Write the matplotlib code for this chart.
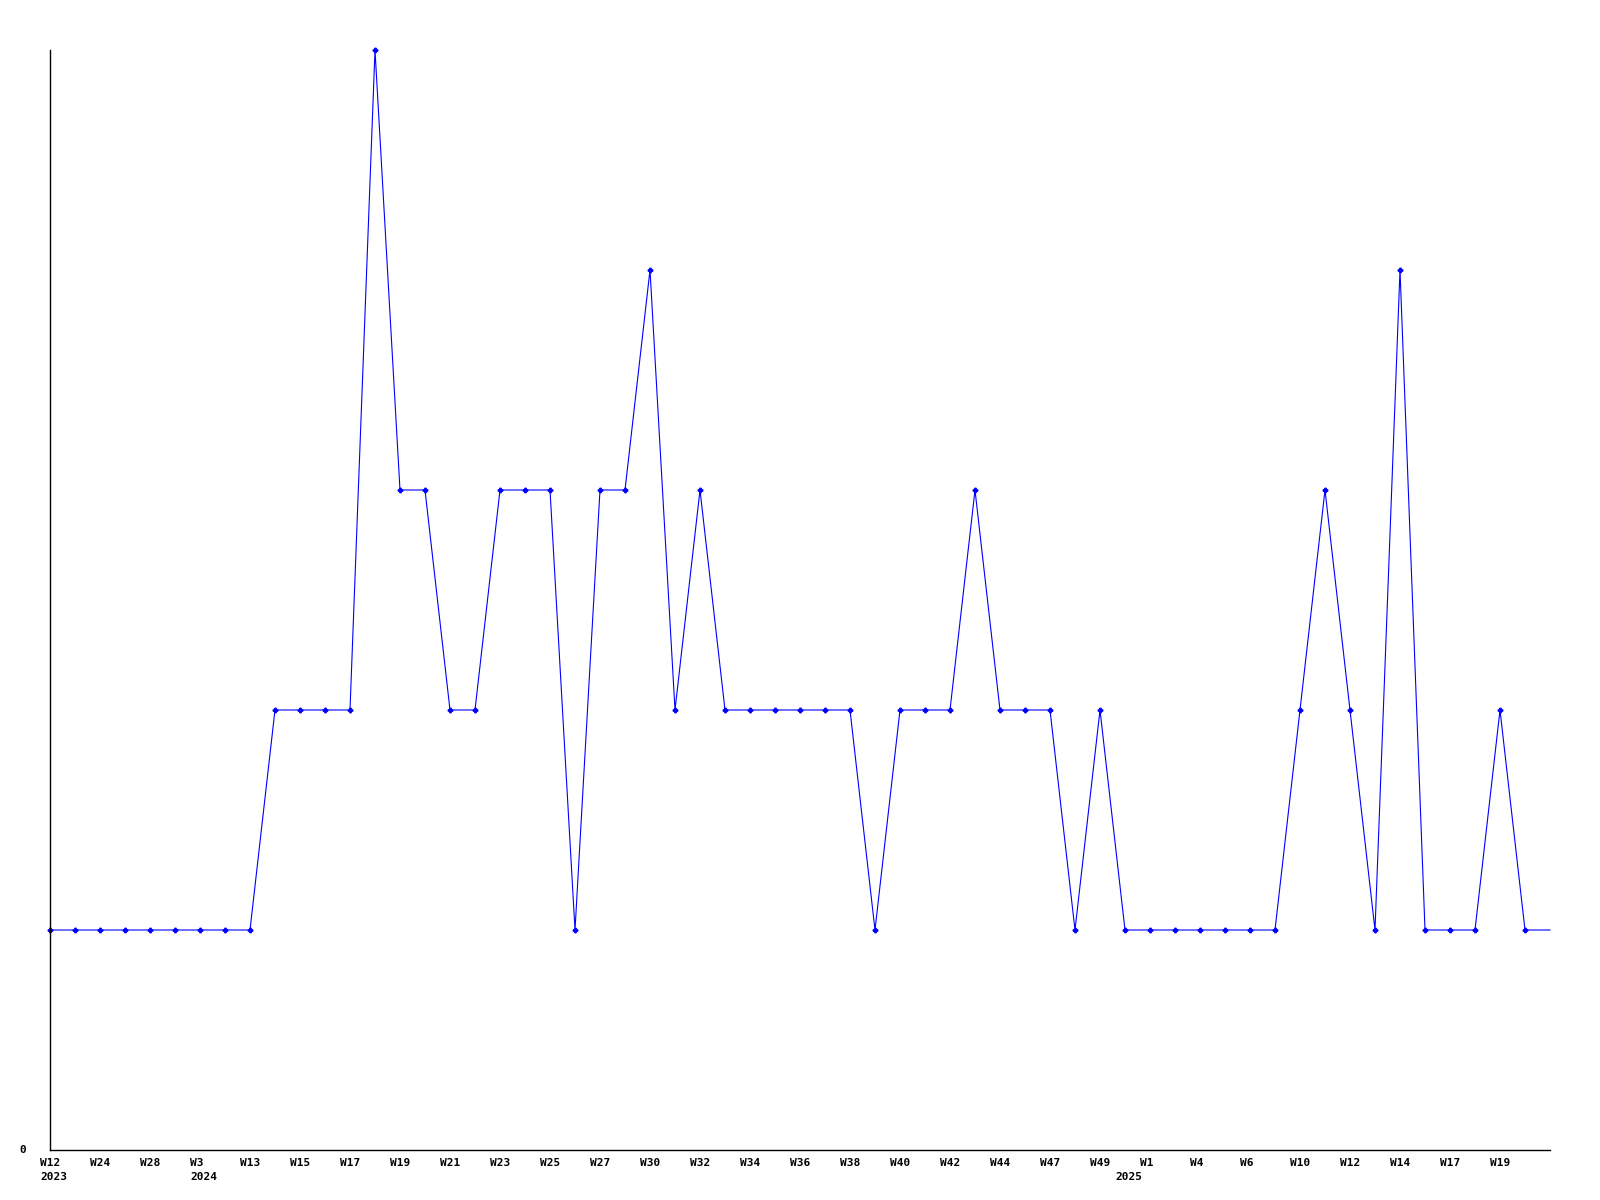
import matplotlib
matplotlib.use("Agg")
import matplotlib.pyplot as plt
import matplotlib.transforms as mtransforms

# weekly counts, one per point (last point has no marker, line runs to axis end)
values = [1, 1, 1, 1, 1, 1, 1, 1, 1,
          2, 2, 2, 2, 5, 3, 3, 2, 2, 3, 3, 3, 1, 3, 3, 4, 2, 3,
          2, 2, 2, 2, 2, 2, 1, 2, 2, 2, 3, 2, 2, 2, 1, 2, 1,
          1, 1, 1, 1, 1, 1, 2, 3, 2, 1, 4, 1, 1, 1, 2, 1, 1]

# week labels sit on every other point
week_labels = ["W12", "W24", "W28", "W3", "W13", "W15", "W17", "W19", "W21", "W23",
               "W25", "W27", "W30", "W32", "W34", "W36", "W38", "W40", "W42", "W44",
               "W47", "W49", "W1", "W4", "W6", "W10", "W12", "W14", "W17", "W19"]
year_pos = [0, 6, 43]
year_text = ["2023", "2024", "2025"]

fig = plt.figure(figsize=(16, 12), dpi=100)
ax = fig.add_axes([50 / 1600, 50 / 1200, 1500 / 1600, 1100 / 1200])

x = list(range(len(values)))
ax.plot(x, values, color="#0000ff", linewidth=0.8, marker="P", markersize=3.2,
        markevery=list(range(len(values) - 1)), clip_on=False)

ax.set_xlim(0, len(values) - 1)
ax.set_ylim(0, 5)
for s in ["top", "right"]:
    ax.spines[s].set_visible(False)
for s in ["left", "bottom"]:
    ax.spines[s].set_linewidth(1.0)
    ax.spines[s].set_color("black")
ax.set_xticks([])
ax.set_yticks([])

font = dict(family="DejaVu Sans Mono", fontweight="bold", fontsize=8)
trans = ax.get_xaxis_transform()
off1 = mtransforms.offset_copy(trans, fig=fig, x=-10, y=-8, units="dots")
off2 = mtransforms.offset_copy(trans, fig=fig, x=-10, y=-22, units="dots")
for i, lab in enumerate(week_labels):
    ax.text(2 * i, 0, lab, transform=off1, ha="left", va="top", **font)
for p, t in zip(year_pos, year_text):
    ax.text(p, 0, t, transform=off2, ha="left", va="top", **font)

ax.text(-24 / 25, 0, "0", transform=ax.transData, ha="right", va="center", **font)

fig.savefig("out.png", dpi=100)
